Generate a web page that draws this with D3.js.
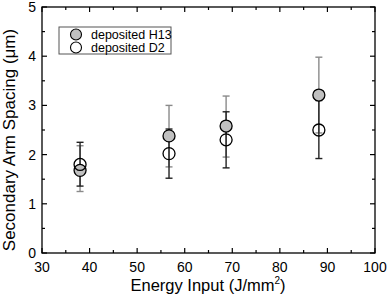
<!DOCTYPE html>
<html><head><meta charset="utf-8">
<script src="https://cdn.jsdelivr.net/npm/d3@7"></script>
<style>body{margin:0;background:#fff}svg{display:block;font-family:Arial,"Liberation Sans",sans-serif}</style>
</head><body><svg id="c" width="387" height="298"></svg>
<script>
const energy = [38, 56.7, 68.7, 88.2];
const h13 = [1.68, 2.38, 2.58, 3.21];
const h13Lo = [1.25, 1.75, 1.95, 2.44];
const h13Hi = [2.18, 3.0, 3.19, 3.98];
const d2 = [1.80, 2.02, 2.30, 2.50];
const d2Lo = [1.36, 1.52, 1.73, 1.92];
const d2Hi = [2.25, 2.52, 2.87, 3.10];
const xTicks = [30, 40, 50, 60, 70, 80, 90, 100];
const yTicks = [0, 1, 2, 3, 4, 5];
const seriesNames = ["deposited H13", "deposited D2"];

const svg = d3.select("#c");
const L = 42, R = 375, T = 7, B = 253;
const x = d3.scaleLinear().domain([30, 100]).range([L, R]);
const y = d3.scaleLinear().domain([0, 5]).range([B, T]);

const g = svg.append("g");
g.append("rect").attr("x", L).attr("y", T).attr("width", R - L).attr("height", B - T)
  .attr("fill", "none").attr("stroke", "#000").attr("stroke-width", 1.3);

const xMinor = d3.range(35, 100, 10);
const yMinor = d3.range(0.5, 5, 1);
function ticks(vals, len, horiz) {
  vals.forEach(v => {
    if (horiz) {
      g.append("line").attr("x1", x(v)).attr("x2", x(v)).attr("y1", B).attr("y2", B - len).attr("stroke", "#000").attr("stroke-width", 1.2);
      g.append("line").attr("x1", x(v)).attr("x2", x(v)).attr("y1", T).attr("y2", T + len).attr("stroke", "#000").attr("stroke-width", 1.2);
    } else {
      g.append("line").attr("y1", y(v)).attr("y2", y(v)).attr("x1", L).attr("x2", L + len).attr("stroke", "#000").attr("stroke-width", 1.2);
      g.append("line").attr("y1", y(v)).attr("y2", y(v)).attr("x1", R).attr("x2", R - len).attr("stroke", "#000").attr("stroke-width", 1.2);
    }
  });
}
ticks(xTicks, 5, true); ticks(xMinor, 3, true);
ticks(yTicks, 5, false); ticks(yMinor, 3, false);

g.selectAll(".xl").data(xTicks).enter().append("text")
  .attr("x", d => x(d)).attr("y", B + 19).attr("text-anchor", "middle")
  .attr("font-size", 14).text(d => d);
g.selectAll(".yl").data(yTicks).enter().append("text")
  .attr("x", L - 6).attr("y", d => y(d) + 5).attr("text-anchor", "end")
  .attr("font-size", 14).text(d => d);

const xt = g.append("text").attr("x", 208).attr("y", 291).attr("text-anchor", "middle").attr("font-size", 16.5);
xt.append("tspan").text("Energy Input (J/mm");
xt.append("tspan").attr("font-size", 10).attr("dy", -7).text("2");
xt.append("tspan").attr("dy", 7).text(")");
g.append("text").attr("transform", `translate(15,${(T + B) / 2 + 10}) rotate(-90)`)
  .attr("text-anchor", "middle").attr("font-size", 17).text("Secondary Arm Spacing (\u03bcm)");

function errBars(lo, hi, color) {
  energy.forEach((e, i) => {
    const cx = x(e);
    g.append("line").attr("x1", cx).attr("x2", cx).attr("y1", y(lo[i])).attr("y2", y(hi[i])).attr("stroke", color).attr("stroke-width", 1.4);
    [lo[i], hi[i]].forEach(v => g.append("line").attr("x1", cx - 3.5).attr("x2", cx + 3.5).attr("y1", y(v)).attr("y2", y(v)).attr("stroke", color).attr("stroke-width", 1.4));
  });
}
errBars(h13Lo, h13Hi, "#8a8a8a");
errBars(d2Lo, d2Hi, "#222");

g.selectAll(".h").data(energy).enter().append("circle")
  .attr("cx", d => x(d)).attr("cy", (d, i) => y(h13[i])).attr("r", 6)
  .attr("fill", "#c0c0c0").attr("stroke", "#000").attr("stroke-width", 1.3);
g.selectAll(".d").data(energy).enter().append("circle")
  .attr("cx", d => x(d)).attr("cy", (d, i) => y(d2[i])).attr("r", 6)
  .attr("fill", "none").attr("stroke", "#000").attr("stroke-width", 1.3);

const lg = g.append("g");
lg.append("rect").attr("x", 59).attr("y", 27).attr("width", 112).attr("height", 27)
  .attr("fill", "#fff").attr("stroke", "#555").attr("stroke-width", 1);
seriesNames.forEach((n, i) => {
  const yy = 34.5 + i * 13;
  lg.append("circle").attr("cx", 76).attr("cy", yy).attr("r", 5.5)
    .attr("fill", i === 0 ? "#c0c0c0" : "#fff").attr("stroke", "#000").attr("stroke-width", 1.1);
  lg.append("text").attr("x", 91).attr("y", yy + 4.5).attr("font-size", 12.5).text(n);
});
</script></body></html>
